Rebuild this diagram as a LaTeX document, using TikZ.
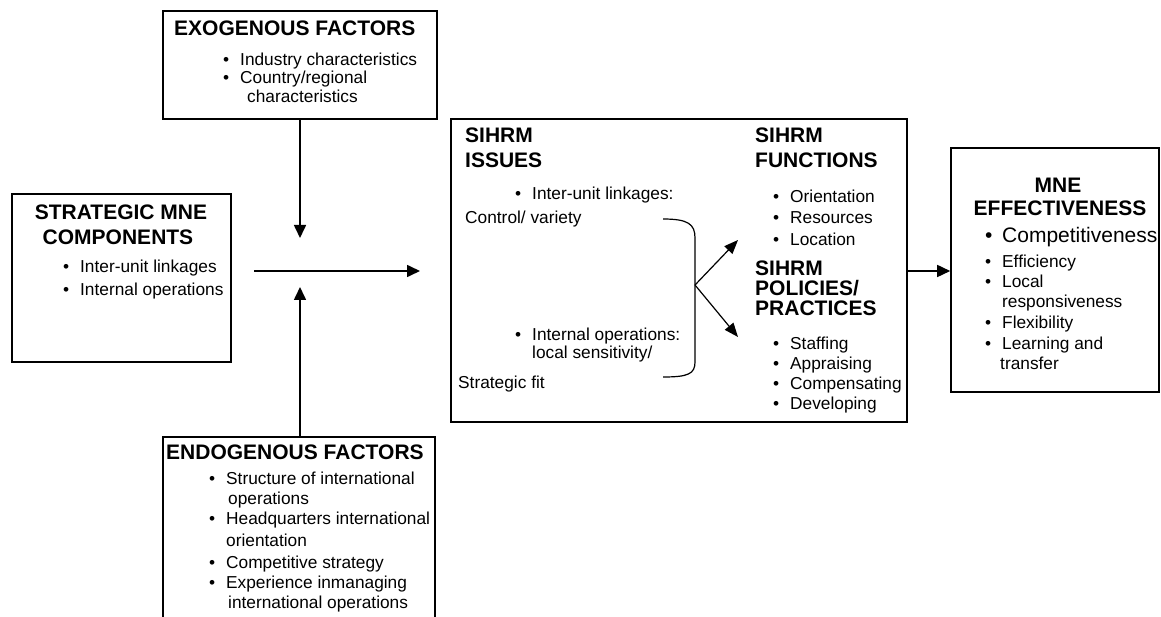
\documentclass[tikz,border=0pt]{standalone}
\usepackage{fontspec}
\setmainfont{Liberation Sans}
\usepackage{tikz}
\usetikzlibrary{arrows.meta,calc}
\newcommand{\blt}{\makebox[17pt][l]{\textbullet}}
\tikzset{
  box/.style={draw, line width=1.6pt, inner sep=0pt},
  tx/.style={anchor=base west, inner sep=0pt, font=\fontsize{17.3}{21}\selectfont},
  big/.style={anchor=base west, inner sep=0pt, font=\fontsize{21}{25}\selectfont},
  hd/.style={anchor=base west, inner sep=0pt, font=\fontsize{21}{25}\selectfont\bfseries},
  hdc/.style={hd, anchor=base},
  arr/.style={line width=1.6pt, -{Triangle[length=13pt,width=12pt]}}
}
\begin{document}
\begin{tikzpicture}[x=1pt,y=-1pt]
  \useasboundingbox (0,0) rectangle (1161,617);
  \node[box, minimum width=274pt, minimum height=108pt] (exo) at (300,65) {};
  \node[box, minimum width=219pt, minimum height=168pt] (strat) at (121.5,278) {};
  \node[box, minimum width=272pt, minimum height=193pt] (endo) at (299,533.5) {};
  \node[box, minimum width=456pt, minimum height=303pt] (cbox) at (679,270.5) {};
  \node[box, minimum width=208pt, minimum height=244pt] (mne) at (1055,270) {};

  \node[hd] (exoH) at (174,35.5) {EXOGENOUS FACTORS};
  \node[tx] (exo1) at (223,66) {\blt Industry characteristics};
  \node[tx] (exo2) at (223,84) {\blt Country/regional};
  \node[tx] (exo3) at (247,103) {characteristics};

  \node[hdc] (stratH1) at (121,219.5) {STRATEGIC MNE};
  \node[hdc] (stratH2) at (118,244.5) {COMPONENTS};
  \node[tx] (strat1) at (63,273) {\blt Inter-unit linkages};
  \node[tx] (strat2) at (63,296) {\blt Internal operations};

  \node[hd] (issH1) at (465,142.5) {SIHRM};
  \node[hd] (issH2) at (465,167.5) {ISSUES};
  \node[tx] (iss1) at (515,200) {\blt Inter-unit linkages:};
  \node[tx] (iss2) at (465,224) {Control/ variety};
  \node[tx] (iss3) at (515,341) {\blt Internal operations:};
  \node[tx] (iss4) at (532,359) {local sensitivity/};
  \node[tx] (iss5) at (458,388) {Strategic fit};

  \node[hd] (funH1) at (755,142.5) {SIHRM};
  \node[hd] (funH2) at (755,167.5) {FUNCTIONS};
  \node[tx] (fun1) at (773,203) {\blt Orientation};
  \node[tx] (fun2) at (773,224) {\blt Resources};
  \node[tx] (fun3) at (773,246) {\blt Location};

  \node[hd] (polH1) at (755,275.5) {SIHRM};
  \node[hd] (polH2) at (755,295.5) {POLICIES/};
  \node[hd] (polH3) at (755,315.5) {PRACTICES};
  \node[tx] (pol1) at (773,349) {\blt Staffing};
  \node[tx] (pol2) at (773,369) {\blt Appraising};
  \node[tx] (pol3) at (773,389) {\blt Compensating};
  \node[tx] (pol4) at (773,409) {\blt Developing};

  \node[hdc] (mneH1) at (1058,192.5) {MNE};
  \node[hdc] (mneH2) at (1060,215.5) {EFFECTIVENESS};
  \node[big] (mne1) at (985,243) {\blt Competitiveness};
  \node[tx] (mne2) at (985,268) {\blt Efficiency};
  \node[tx] (mne3) at (985,288) {\blt Local};
  \node[tx] (mne4) at (1002,308) {responsiveness};
  \node[tx] (mne5) at (985,328) {\blt Flexibility};
  \node[tx] (mne6) at (985,349) {\blt Learning and};
  \node[tx] (mne7) at (1000,369) {transfer};

  \node[hd] (endoH) at (166,459.5) {ENDOGENOUS FACTORS};
  \node[tx] (endo1) at (209,484) {\blt Structure of international};
  \node[tx] (endo2) at (228,504) {operations};
  \node[tx] (endo3) at (209,524) {\blt Headquarters international};
  \node[tx] (endo4) at (226,546) {orientation};
  \node[tx] (endo5) at (209,568) {\blt Competitive strategy};
  \node[tx] (endo6) at (209,588) {\blt Experience inmanaging};
  \node[tx] (endo7) at (228,608) {international operations};

  \coordinate (dtip) at (300,238);
  \coordinate (utip) at (300,287);
  \coordinate (hbeg) at (254,271);
  \coordinate (htip) at (420,271);
  \coordinate (brtop) at (663,219);
  \coordinate (brmid) at (695,285);
  \coordinate (brbot) at (663,377);
  \coordinate (afun) at (738,240);
  \coordinate (apol) at (738,337);

  \draw[arr] (exo.south -| dtip) -- (dtip);
  \draw[arr] (endo.north -| utip) -- (utip);
  \draw[arr] (hbeg) -- (htip);
  \draw[arr] (cbox.east |- htip) -- (mne.west |- htip);
  \draw[line width=1.2pt] (brtop) .. controls (688,219) and (695,224) .. (695,238) -- (695,362) .. controls (695,374) and (688,377) .. (brbot);
  \draw[line width=1.2pt, -{Triangle[length=14pt,width=11pt]}] (brmid) -- (afun);
  \draw[line width=1.2pt, -{Triangle[length=14pt,width=11pt]}] (brmid) -- (apol);
\end{tikzpicture}
\end{document}
